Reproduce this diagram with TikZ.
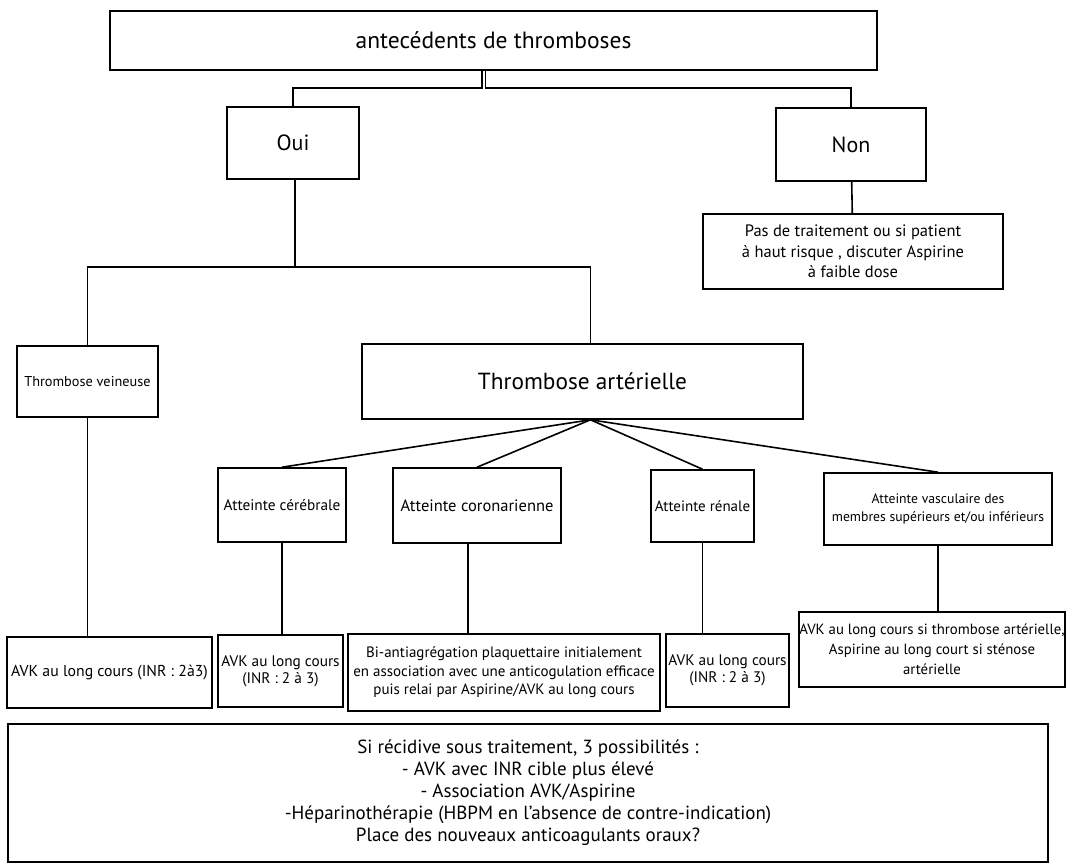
\documentclass[tikz,border=0pt]{standalone}
\usepackage{fontspec}
\setmainfont{PT Sans}
\newcommand{\fs}[2]{\fontsize{#1}{#2}\selectfont}
\tikzset{
  boite/.style={draw, line width=1.6pt, inner sep=0pt, align=center},
  lien/.style={line width=1.6pt}
}
\begin{document}
\begin{tikzpicture}[x=1pt, y=-1pt]
\useasboundingbox (0,0) rectangle (1079,863);
% niveau 1
\node[boite, minimum width=767, minimum height=59, font=\fs{23.5}{27}] (atcd) at (493.5,40.5) {antecédents de thromboses};
\node[boite, minimum width=132, minimum height=72, font=\fs{22}{26}] (oui) at (293,143) {Oui};
\node[boite, minimum width=150, minimum height=73, font=\fs{22}{26}] (non) at (851,144.5) {Non};
\node[boite, minimum width=300, minimum height=75, font=\fs{16.5}{20.5}] (rien) at (853,251.5) {Pas de traitement ou si patient\\ à haut risque , discuter Aspirine\\ à faible dose};
% niveau 2
\node[boite, minimum width=141, minimum height=71, font=\fs{14.3}{17}] (veine) at (87.5,381.5) {Thrombose veineuse};
\node[boite, minimum width=441, minimum height=75, font=\fs{23.3}{27}] (artere) at (582.5,381.5) {Thrombose artérielle};
% atteintes
\node[boite, minimum width=128, minimum height=74, font=\fs{15.3}{18}] (cereb) at (282,505) {Atteinte cérébrale};
\node[boite, minimum width=168, minimum height=75, font=\fs{16.5}{18}] (coro) at (477,505.5) {Atteinte coronarienne};
\node[boite, minimum width=103, minimum height=72, font=\fs{15}{18}] (renal) at (702.5,506) {Atteinte rénale};
\node[boite, minimum width=228, minimum height=72, font=\fs{13.7}{18}] (vasc) at (938,509) {Atteinte vasculaire des\\ membres supérieurs et/ou inférieurs};
% traitements
\node[boite, minimum width=205, minimum height=71, font=\fs{15.8}{20}] (tveine) at (109.5,672.5) {AVK au long cours (INR : 2à3)};
\node[boite, minimum width=125, minimum height=72, font=\fs{15.3}{17}] (tcereb) at (280.5,671) {AVK au long cours\\ (INR : 2 à 3)};
\node[boite, minimum width=312, minimum height=77, font=\fs{15}{18.5}] (tcoro) at (504,672.5) {Bi-antiagrégation plaquettaire initialement\\ en association avec une anticogulation efficace\\ puis relai par Aspirine/AVK au long cours};
\node[boite, minimum width=123, minimum height=73, font=\fs{15.3}{17}] (trenal) at (727.5,670.5) {AVK au long cours\\ (INR : 2 à 3)};
\node[boite, minimum width=260, minimum height=75, font=\fs{14.8}{20}] (tvasc) at (932,649.5) {AVK au long cours si thrombose artérielle,\\ Aspirine au long court si sténose\\ artérielle};
% recidive
\node[boite, minimum width=1040, minimum height=138, font=\fs{19}{22}] (recid) at (528,793) {Si récidive sous traitement, 3 possibilités :\\ - AVK avec INR cible plus élevé\\ - Association AVK/Aspirine\\ -Héparinothérapie (HBPM en l'absence de contre-indication)\\ Place des nouveaux anticoagulants oraux?};
% liens
\coordinate (fourcheG) at (482,88);
\coordinate (fourcheD) at (485.5,88);
\coordinate (split) at (295,267);
\draw[lien] (atcd.south -| fourcheG) -- (fourcheG) -| (oui.north);
\draw[lien] (atcd.south -| fourcheD) -- (fourcheD) -| (non.north);
\draw[lien] (non) -- (rien);
\draw[line width=2.6pt] (oui.south -| split) -- (split);
\draw[lien] (veine.north) |- (split) -| ([xshift=8]artere.north);
\coordinate (eventail) at ([xshift=8]artere.south);
\foreach \n in {cereb, coro, renal, vasc}
  \draw[lien] (eventail) -- (\n.north);
\draw[lien] (veine) -- (veine |- tveine.north);
\draw[lien] (cereb) -- (cereb |- tcereb.north);
\draw[lien] (coro.south -| 468,0) -- (tcoro.north -| 468,0);
\draw[lien] (renal) -- (renal |- trenal.north);
\draw[lien] (vasc) -- (vasc |- tvasc.north);
\end{tikzpicture}
\end{document}
